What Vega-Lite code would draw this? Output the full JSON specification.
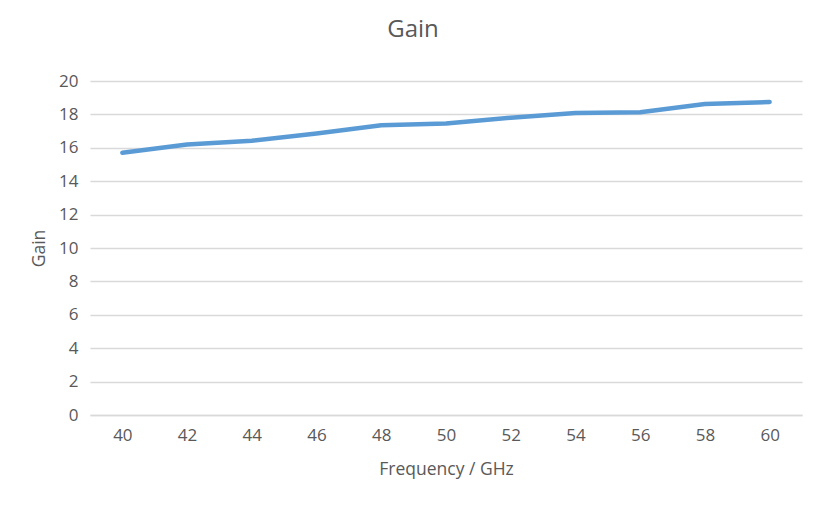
{
  "$schema": "https://vega.github.io/schema/vega-lite/v6.json",
  "width": 712,
  "height": 334,
  "autosize": "none",
  "padding": {"left": 90, "top": 81, "right": 24, "bottom": 95},
  "background": "white",
  "title": {
    "text": "Gain",
    "fontSize": 24,
    "font": "Open Sans",
    "fontWeight": "normal",
    "color": "#595959",
    "frame": "group",
    "anchor": "middle",
    "dx": -33,
    "offset": 30
  },
  "data": {
    "values": [
      {"freq": 40, "gain": 15.7},
      {"freq": 42, "gain": 16.2},
      {"freq": 44, "gain": 16.42},
      {"freq": 46, "gain": 16.85},
      {"freq": 48, "gain": 17.35},
      {"freq": 50, "gain": 17.45},
      {"freq": 52, "gain": 17.8},
      {"freq": 54, "gain": 18.08},
      {"freq": 56, "gain": 18.13},
      {"freq": 58, "gain": 18.62},
      {"freq": 60, "gain": 18.74}
    ]
  },
  "mark": {"type": "line", "color": "#5b9bd5", "strokeWidth": 4.5, "strokeCap": "round", "strokeJoin": "round"},
  "encoding": {
    "x": {
      "field": "freq",
      "type": "ordinal",
      "scale": {"type": "point", "padding": 0.5},
      "axis": {
        "title": "Frequency / GHz",
        "labelAngle": 0,
        "ticks": false,
        "domain": true,
        "domainColor": "#d9d9d9",
        "domainWidth": 1.5,
        "grid": false,
        "labelPadding": 12,
        "titlePadding": 17
      }
    },
    "y": {
      "field": "gain",
      "type": "quantitative",
      "scale": {"domain": [0, 20], "nice": false},
      "axis": {
        "title": "Gain",
        "values": [0, 2, 4, 6, 8, 10, 12, 14, 16, 18, 20],
        "ticks": false,
        "domain": false,
        "grid": true,
        "gridColor": "#d9d9d9",
        "gridWidth": 1.5,
        "labelPadding": 12,
        "titlePadding": 10
      }
    }
  },
  "config": {
    "view": {"stroke": null},
    "axis": {
      "labelFont": "Open Sans",
      "labelFontSize": 17,
      "labelColor": "#595959",
      "titleFont": "Open Sans",
      "titleFontSize": 17.5,
      "titleFontWeight": "normal",
      "titleColor": "#595959"
    }
  }
}
